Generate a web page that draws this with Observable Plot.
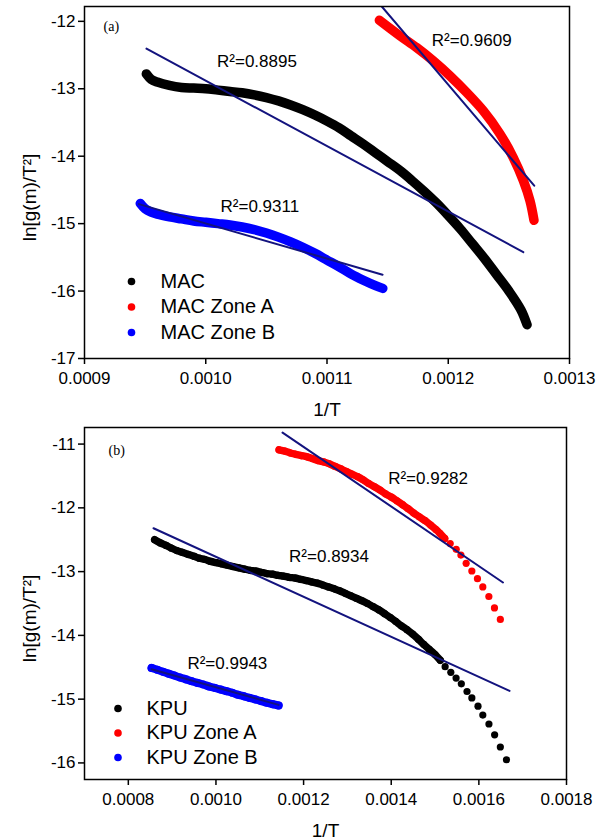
<!DOCTYPE html>
<html><head><meta charset="utf-8">
<script src="https://cdn.jsdelivr.net/npm/d3@7"></script>
<script src="https://cdn.jsdelivr.net/npm/@observablehq/plot@0.6"></script>
<style>
body{margin:0;background:#fff;}
#chart{width:603px;}
#chart svg{display:block;}
</style></head><body><div id="chart"></div>
<script>
// ---------- Panel (a) data ----------
const xTicksA = [0.0009, 0.0010, 0.0011, 0.0012, 0.0013];
const yTicksA = [-17, -16, -15, -14, -13, -12];
const mac = [[0.000951,-12.78],[0.000955,-12.86],[0.00096,-12.90],[0.00097,-12.95],[0.00098,-12.98],[0.00099,-12.99],[0.0010,-13.00],[0.00101,-13.02],[0.00102,-13.04],[0.00103,-13.06],[0.00104,-13.09],[0.00105,-13.13],[0.00106,-13.18],[0.00107,-13.24],[0.00108,-13.31],[0.00109,-13.39],[0.0011,-13.48],[0.00111,-13.58],[0.00112,-13.70],[0.00113,-13.82],[0.00114,-13.95],[0.00115,-14.08],[0.00116,-14.21],[0.00117,-14.36],[0.00118,-14.52],[0.00119,-14.69],[0.0012,-14.88],[0.00121,-15.08],[0.00122,-15.30],[0.00123,-15.52],[0.00124,-15.76],[0.00125,-16.00],[0.00126,-16.28],[0.001265,-16.50]];
const macZoneA = [[0.0011432,-11.985],[0.0011603,-12.217],[0.001174,-12.39],[0.0011877,-12.587],[0.0012015,-12.81],[0.0012152,-13.056],[0.0012289,-13.327],[0.0012427,-13.67],[0.0012536,-14.02],[0.0012619,-14.36],[0.0012674,-14.66],[0.0012707,-14.95]];
const macZoneB = [[0.000946,-14.70],[0.00095,-14.78],[0.000955,-14.83],[0.00096,-14.86],[0.00097,-14.90],[0.00098,-14.93],[0.00099,-14.96],[0.0010,-14.98],[0.00101,-15.00],[0.00102,-15.02],[0.00103,-15.05],[0.00104,-15.09],[0.00105,-15.14],[0.00106,-15.20],[0.00107,-15.27],[0.00108,-15.35],[0.00109,-15.44],[0.0011,-15.54],[0.00111,-15.64],[0.00112,-15.75],[0.00113,-15.84],[0.00114,-15.92],[0.001146,-15.96]];
const macFit = [[0.0009511,-12.405],[0.0012619,-15.423]];
const macZoneAFit = [[0.0011452,-11.78],[0.0012709,-14.437]];
const macZoneBFit = [[0.0009449,-14.711],[0.0011458,-15.757]];
const r2A = [
  {x:0.0010093, y:-12.60, t:"R²=0.8895"},
  {x:0.0011864, y:-12.28, t:"R²=0.9609"},
  {x:0.0010122, y:-14.75, t:"R²=0.9311"}
];
const legendA = ["MAC", "MAC Zone A", "MAC Zone B"];

// ---------- Panel (b) data ----------
const xTicksB = [0.0008, 0.0010, 0.0012, 0.0014, 0.0016, 0.0018];
const yTicksB = [-16, -15, -14, -13, -12, -11];
const kpu = [[0.000860,-12.50],[0.000873,-12.55],[0.000886,-12.59],[0.000898,-12.63],[0.000911,-12.67],[0.000924,-12.70],[0.000937,-12.73],[0.000950,-12.76],[0.000962,-12.79],[0.000975,-12.81],[0.000988,-12.84],[0.001001,-12.86],[0.001014,-12.88],[0.001026,-12.90],[0.001039,-12.92],[0.001052,-12.94],[0.001065,-12.96],[0.001078,-12.98],[0.001090,-12.99],[0.001103,-13.01],[0.001116,-13.03],[0.001129,-13.04],[0.001142,-13.06],[0.001154,-13.07],[0.001167,-13.09],[0.001180,-13.10],[0.001193,-13.12],[0.001206,-13.14],[0.001218,-13.16],[0.001231,-13.18],[0.001244,-13.21],[0.001257,-13.24],[0.001270,-13.27],[0.001282,-13.30],[0.001295,-13.34],[0.001308,-13.38],[0.001321,-13.42],[0.001334,-13.46],[0.001346,-13.50],[0.001359,-13.55],[0.001372,-13.60],[0.001385,-13.66],[0.001398,-13.72],[0.001410,-13.78],[0.001423,-13.85],[0.001436,-13.91],[0.001449,-13.98],[0.001462,-14.06],[0.001474,-14.14],[0.001487,-14.22],[0.001500,-14.30],[0.001512,-14.39],[0.001523,-14.49],[0.001536,-14.58],[0.001548,-14.67],[0.001560,-14.76],[0.001573,-14.88],[0.001584,-14.98],[0.001598,-15.11],[0.001609,-15.25],[0.001623,-15.39],[0.001636,-15.56],[0.001649,-15.75],[0.001663,-15.95]];
const kpuZoneA = [[0.001144,-11.09],[0.001157,-11.11],[0.001170,-11.14],[0.001182,-11.16],[0.001195,-11.18],[0.001208,-11.20],[0.001221,-11.23],[0.001234,-11.26],[0.001246,-11.28],[0.001259,-11.31],[0.001272,-11.35],[0.001285,-11.39],[0.001298,-11.43],[0.001310,-11.47],[0.001323,-11.51],[0.001336,-11.56],[0.001349,-11.62],[0.001362,-11.67],[0.001374,-11.72],[0.001387,-11.78],[0.001400,-11.83],[0.001413,-11.89],[0.001426,-11.95],[0.001438,-12.01],[0.001451,-12.08],[0.001464,-12.14],[0.001477,-12.20],[0.001490,-12.27],[0.001502,-12.34],[0.001511,-12.40],[0.001522,-12.48],[0.0015346,-12.56],[0.0015483,-12.65],[0.001559,-12.74],[0.001571,-12.87],[0.001584,-12.99],[0.0015968,-13.11],[0.001609,-13.24],[0.0016228,-13.39],[0.0016356,-13.57],[0.001649,-13.75]];
const kpuZoneB = [[0.000853,-14.51],[0.000866,-14.54],[0.000879,-14.57],[0.000892,-14.60],[0.000905,-14.63],[0.000918,-14.66],[0.000932,-14.69],[0.000945,-14.72],[0.000958,-14.745],[0.000971,-14.77],[0.000984,-14.80],[0.000998,-14.825],[0.001011,-14.85],[0.001024,-14.875],[0.001037,-14.90],[0.001050,-14.93],[0.001064,-14.955],[0.001077,-14.98],[0.001090,-15.005],[0.001103,-15.03],[0.001116,-15.055],[0.001130,-15.08],[0.001143,-15.10]];
const kpuFit = [[0.0008575,-12.32],[0.00167,-14.87]];
const kpuZoneAFit = [[0.001152,-10.82],[0.001655,-13.17]];
const kpuZoneBFit = [[0.000853,-14.53],[0.001143,-15.09]];
const r2B = [
  {x:0.001393, y:-11.535, t:"R²=0.9282"},
  {x:0.0011669, y:-12.764, t:"R²=0.8934"},
  {x:0.0009349, y:-14.435, t:"R²=0.9943"}
];
const legendB = ["KPU", "KPU Zone A", "KPU Zone B"];
// number of leading points of each KPU series where the dots merge into a band
const kpuDense = 52, kpuZoneADense = 31, kpuZoneBDense = 23;

const colors = ["#000000", "#ff0000", "#0000ff"];
const fitColor = "#13137e";
const font = "'Liberation Sans', Arial, sans-serif";
const X = d => d[0], Y = d => d[1];

function axesAndLabels(xTicks, xFmt, yTicks) {
  return [
    Plot.axisX(xTicks, {tickFormat: xFmt, tickSize: 6, tickPadding: 7, strokeWidth: 1.5, fontSize: 17, label: null}),
    Plot.axisY(yTicks, {tickFormat: d => String(d), tickSize: 6, tickPadding: 3, strokeWidth: 1.5, fontSize: 17, label: null}),
    Plot.frame({stroke: "#000", strokeWidth: 1.5}),
    Plot.text(["1/T"], {text: d => d, frameAnchor: "bottom", textAnchor: "middle", lineAnchor: "middle", dy: 51, fontSize: 19}),
    Plot.text(["ln[g(m)/T²]"], {text: d => d, frameAnchor: "left", textAnchor: "middle", lineAnchor: "middle", rotate: -90, dx: -55, dy: 15, fontSize: 19})
  ];
}

function legendMarks(names, dx, dy0, step, tdx) {
  return names.flatMap((name, i) => [
    Plot.dot([name], {frameAnchor: "top-left", dx: dx, dy: dy0 + i * step, r: 3.8, fill: colors[i], stroke: null}),
    Plot.text([name], {text: d => d, frameAnchor: "top-left", dx: tdx, dy: dy0 + i * step, textAnchor: "start", lineAnchor: "middle", fontSize: 20})
  ]);
}

const style = {fontFamily: font, fontSize: "17px", color: "#000", background: "#fff", overflow: "visible"};

const band = {x: X, y: Y, strokeWidth: 9.5, strokeLinecap: "round", strokeLinejoin: "round", curve: "catmull-rom"};
const bandB = {x: X, y: Y, strokeWidth: 7.4, strokeLinecap: "round", strokeLinejoin: "round", curve: "catmull-rom"};
const serif = "'Liberation Serif', 'Times New Roman', serif";

const plotA = Plot.plot({
  width: 603, height: 420,
  marginTop: 6, marginBottom: 62, marginLeft: 84, marginRight: 34,
  x: {domain: [0.0009, 0.0013]},
  y: {domain: [-17, -11.78]},
  style,
  marks: [
    Plot.line(mac, {...band, stroke: colors[0]}),
    Plot.line(macZoneA, {...band, stroke: colors[1]}),
    Plot.line(macZoneB, {...band, stroke: colors[2]}),
    Plot.line(macFit, {x: X, y: Y, stroke: fitColor, strokeWidth: 2, clip: true}),
    Plot.line(macZoneAFit, {x: X, y: Y, stroke: fitColor, strokeWidth: 2, clip: true}),
    Plot.line(macZoneBFit, {x: X, y: Y, stroke: fitColor, strokeWidth: 2, clip: true}),
    Plot.text(r2A, {x: "x", y: "y", text: "t", textAnchor: "start", fontSize: 17}),
    Plot.text(["(a)"], {text: d => d, frameAnchor: "top-left", dx: 19, dy: 20, textAnchor: "start", lineAnchor: "middle", fontSize: 14, fontFamily: serif}),
    ...legendMarks(legendA, 47, 275, 25.5, 76),
    ...axesAndLabels(xTicksA, d3.format(".4f"), yTicksA)
  ]
});

const plotB = Plot.plot({
  width: 603, height: 420,
  marginTop: 7, marginBottom: 61, marginLeft: 84, marginRight: 37,
  x: {domain: [0.0007, 0.0018]},
  y: {domain: [-16.26, -10.74]},
  style,
  marks: [
    Plot.line(kpu.slice(0, kpuDense), {...bandB, stroke: colors[0]}),
    Plot.line(kpuZoneA.slice(0, kpuZoneADense), {...bandB, stroke: colors[1]}),
    Plot.line(kpuZoneB.slice(0, kpuZoneBDense), {...bandB, strokeWidth: 8, stroke: colors[2]}),
    Plot.dot(kpu, {x: X, y: Y, r: 3.6, fill: colors[0], stroke: null}),
    Plot.dot(kpuZoneA, {x: X, y: Y, r: 3.6, fill: colors[1], stroke: null}),
    Plot.dot(kpuZoneB, {x: X, y: Y, r: 4, fill: colors[2], stroke: null}),
    Plot.line(kpuFit, {x: X, y: Y, stroke: fitColor, strokeWidth: 2, clip: true}),
    Plot.line(kpuZoneAFit, {x: X, y: Y, stroke: fitColor, strokeWidth: 2, clip: true}),
    Plot.line(kpuZoneBFit, {x: X, y: Y, stroke: fitColor, strokeWidth: 2, clip: true}),
    Plot.text(r2B, {x: "x", y: "y", text: "t", textAnchor: "start", fontSize: 17}),
    Plot.text(["(b)"], {text: d => d, frameAnchor: "top-left", dx: 24, dy: 23, textAnchor: "start", lineAnchor: "middle", fontSize: 14, fontFamily: serif}),
    ...legendMarks(legendB, 33.5, 281, 24.5, 62),
    ...axesAndLabels(xTicksB, d3.format(".4f"), yTicksB)
  ]
});

document.getElementById("chart").append(plotA, plotB);
</script></body></html>
